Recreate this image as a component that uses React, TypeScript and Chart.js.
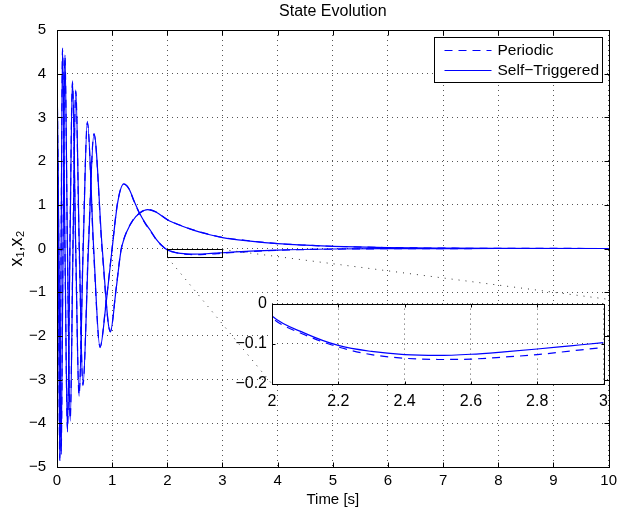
import React, { useEffect, useRef } from 'react';
import { Chart, registerables } from 'chart.js';

Chart.register(...registerables);

// ---------------- data ----------------
const TITLE = 'State Evolution';
const X_LABEL = 'Time [s]';
const Y_LABEL = 'x₁,x₂';
const LEGEND_LABELS = ['Periodic', 'Self−Triggered'];

const MAIN_X_RANGE = [0, 10];
const MAIN_Y_RANGE = [-5, 5];
const MAIN_X_STEP = 1;
const MAIN_Y_STEP = 1;
const ZOOM_X_RANGE = [2, 3];
const ZOOM_Y_RANGE = [-0.2, 0];
const ZOOM_X_STEP = 0.2;
const ZOOM_Y_STEP = 0.1;

const TIME_X1 = [0, 0.025, 0.05, 0.075, 0.1, 0.145, 0.19, 0.235, 0.28, 0.34, 0.4, 0.475, 0.55, 0.665, 0.78, 0.89, 1.0, 1.1, 1.21, 1.3, 1.4, 1.5, 1.6, 1.7, 1.8, 1.9, 2.0, 2.1, 2.2, 2.3, 2.4, 2.5, 2.6, 2.7, 2.8, 2.9, 3.0, 3.5, 4.0, 5.0, 6.0, 7.0, 8.0, 10.0];
const X1_SELF = [3.6, 0, -4.85, 0, 4.59, 0, -4.2, 0, 3.84, 0, -3.38, 0, 2.91, 0, -2.27, -1.25, 0, 1.05, 1.48, 1.38, 1.08, 0.8, 0.58, 0.4, 0.21, 0.07, -0.031, -0.074, -0.104, -0.119, -0.127, -0.129, -0.126, -0.12, -0.113, -0.105, -0.097, -0.06, -0.035, -0.012, -0.004, -0.001, 0, 0];
const X1_PERIODIC = [3.6, -0.3, -4.8, 0.3, 4.55, -0.2, -4.15, 0.2, 3.8, -0.15, -3.35, 0.15, 2.88, -0.1, -2.25, -1.22, 0.02, 1.07, 1.47, 1.37, 1.07, 0.79, 0.57, 0.39, 0.2, 0.065, -0.035, -0.078, -0.108, -0.127, -0.136, -0.139, -0.138, -0.133, -0.127, -0.118, -0.109, -0.07, -0.04, -0.014, -0.005, -0.002, 0, 0];

const TIME_X2 = [0, 0.035, 0.075, 0.11, 0.144, 0.19, 0.24, 0.29, 0.34, 0.405, 0.47, 0.57, 0.67, 0.82, 0.967, 1.07, 1.16, 1.21, 1.26, 1.375, 1.5, 1.645, 1.8, 2.0, 2.25, 2.5, 2.75, 3.0, 3.5, 4.0, 4.5, 5.0, 6.0, 7.0, 8.0, 10.0];
const X2_SELF = [4.2, 0, -4.7, 0, 4.43, 0, -3.95, 0, 3.63, 0, -3.14, 0, 2.63, 0, -1.91, -0.95, -0.05, 0.2, 0.37, 0.64, 0.81, 0.89, 0.83, 0.66, 0.52, 0.41, 0.32, 0.25, 0.17, 0.11, 0.075, 0.05, 0.02, 0.008, 0.003, 0];
const X2_PERIODIC = [4.2, -0.25, -4.65, 0.25, 4.4, -0.2, -3.9, 0.2, 3.6, -0.15, -3.12, 0.12, 2.62, -0.08, -1.9, -0.93, -0.03, 0.21, 0.38, 0.65, 0.815, 0.895, 0.835, 0.665, 0.525, 0.415, 0.325, 0.255, 0.175, 0.113, 0.077, 0.051, 0.021, 0.008, 0.003, 0];

// ---------------- layout / style ----------------
const W = 622;
const H = 513;
const FONT = '"Liberation Sans", Arial, Helvetica, sans-serif';
const BLUE = 'rgb(0,0,255)';
const DASH = [8, 6];
const GRID_COLOR = '#555';
const GRID_DASH = [1, 4];

const MAIN_Y_AXIS_W = 57;
const MAIN_X_AXIS_H = 46;
const MAIN_PAD = { top: 0, right: 10, bottom: 0, left: 0 };

const INSET_BOX = { left: 220, top: 289, width: 396, height: 123 };
const INSET_Y_AXIS_W = 52;
const INSET_X_AXIS_H = 28;
const INSET_PAD = { top: 10, right: 10, bottom: 0, left: 0 };
const INSET_AREA = {
  left: INSET_BOX.left + INSET_PAD.left + INSET_Y_AXIS_W,
  top: INSET_BOX.top + INSET_PAD.top,
  right: INSET_BOX.left + INSET_BOX.width - INSET_PAD.right,
  bottom: INSET_BOX.top + INSET_BOX.height - INSET_X_AXIS_H,
};

Chart.defaults.font.family = FONT;
Chart.defaults.color = '#000';

const pts = (t: number[], v: number[]) => t.map((x, i) => ({ x, y: v[i] }));
const fmt = (v: number | string) => {
  const n = Math.round(Number(v) * 10) / 10;
  return String(n === 0 ? 0 : n).replace('-', '−');
};

function makeDatasets() {
  const base = { borderColor: BLUE, borderWidth: 1.2, pointRadius: 0, fill: false, cubicInterpolationMode: 'monotone' as const };
  return [
    { ...base, label: LEGEND_LABELS[0] + ' x1', data: pts(TIME_X1, X1_PERIODIC), borderDash: DASH },
    { ...base, label: LEGEND_LABELS[0] + ' x2', data: pts(TIME_X2, X2_PERIODIC), borderDash: DASH },
    { ...base, label: LEGEND_LABELS[1] + ' x1', data: pts(TIME_X1, X1_SELF) },
    { ...base, label: LEGEND_LABELS[1] + ' x2', data: pts(TIME_X2, X2_SELF) },
  ];
}

const align = (v: number) => Math.round(v) + 0.5;

const framePlugin = {
  id: 'frame',
  beforeDraw(chart: any, _a: any, opts: any) {
    if (!opts || !opts.fill) return;
    const { left, top, right, bottom } = chart.chartArea;
    const ctx = chart.ctx;
    ctx.save();
    ctx.fillStyle = '#fff';
    ctx.fillRect(left, top, right - left + 1, bottom - top + 1);
    ctx.restore();
  },
  afterDraw(chart: any, _a: any, opts: any) {
    const ctx = chart.ctx;
    const { left, top, right, bottom } = chart.chartArea;
    const L = align(left), R = align(right), T = align(top), B = align(bottom);
    const len = (opts && opts.tickLen) || 5;
    ctx.save();
    ctx.strokeStyle = '#000';
    ctx.lineWidth = 1;
    ctx.setLineDash([]);
    ctx.beginPath();
    const xs = chart.scales.x, ys = chart.scales.y;
    xs.ticks.forEach((t: any) => {
      const p = align(xs.getPixelForValue(t.value));
      ctx.moveTo(p, B); ctx.lineTo(p, B - len);
      ctx.moveTo(p, T); ctx.lineTo(p, T + len);
    });
    ys.ticks.forEach((t: any) => {
      const p = align(ys.getPixelForValue(t.value));
      ctx.moveTo(L, p); ctx.lineTo(L + len, p);
      ctx.moveTo(R, p); ctx.lineTo(R - len, p);
    });
    ctx.stroke();
    ctx.strokeRect(L, T, R - L, B - T);
    ctx.restore();
  },
};

const zoomMarkerPlugin = {
  id: 'zoomMarker',
  afterDatasetsDraw(chart: any) {
    const ctx = chart.ctx;
    const xs = chart.scales.x, ys = chart.scales.y;
    const x0 = align(xs.getPixelForValue(ZOOM_X_RANGE[0]));
    const x1 = align(xs.getPixelForValue(ZOOM_X_RANGE[1]));
    const yT = align(ys.getPixelForValue(ZOOM_Y_RANGE[1]));
    const yB = align(ys.getPixelForValue(ZOOM_Y_RANGE[0]));
    ctx.save();
    ctx.strokeStyle = '#000';
    ctx.lineWidth = 1;
    ctx.setLineDash([]);
    ctx.strokeRect(x0, yT, x1 - x0, yB - yT);
    ctx.strokeStyle = '#333';
    ctx.setLineDash([1, 6]);
    ctx.beginPath();
    ctx.moveTo(x0, yB); ctx.lineTo(INSET_AREA.left, INSET_AREA.bottom);
    ctx.moveTo(x1, yT); ctx.lineTo(INSET_AREA.right, INSET_AREA.top);
    ctx.stroke();
    ctx.restore();
  },
};

const legendPlugin = {
  id: 'legendBox',
  afterDraw(chart: any) {
    const ctx = chart.ctx;
    const { right, top } = chart.chartArea;
    ctx.save();
    ctx.font = '15.5px ' + FONT;
    const tw = Math.max(...LEGEND_LABELS.map((l) => ctx.measureText(l).width));
    const w = Math.round(63 + tw + 3);
    const h = 45;
    const x0 = align(right - 7 - w);
    const y0 = align(top + 7);
    ctx.fillStyle = '#fff';
    ctx.fillRect(x0, y0, w, h);
    ctx.strokeStyle = '#000';
    ctx.lineWidth = 1;
    ctx.strokeRect(x0, y0, w, h);
    LEGEND_LABELS.forEach((label, i) => {
      const y = y0 + 13 + i * 20;
      ctx.strokeStyle = BLUE;
      ctx.lineWidth = 1.2;
      ctx.setLineDash(i === 0 ? DASH : []);
      ctx.beginPath();
      ctx.moveTo(x0 + 10, y);
      ctx.lineTo(x0 + 57, y);
      ctx.stroke();
      ctx.setLineDash([]);
      ctx.fillStyle = '#000';
      ctx.textAlign = 'left';
      ctx.textBaseline = 'middle';
      ctx.fillText(label, x0 + 63, y);
    });
    ctx.restore();
  },
};

export default function App() {
  const mainRef = useRef<HTMLCanvasElement>(null);
  const insetRef = useRef<HTMLCanvasElement>(null);

  useEffect(() => {
    const gridOpts = { color: GRID_COLOR, lineWidth: 1, drawTicks: false, drawOnChartArea: true };
    const main = new Chart(mainRef.current as HTMLCanvasElement, {
      type: 'line',
      data: { datasets: makeDatasets() as any },
      plugins: [framePlugin, zoomMarkerPlugin, legendPlugin],
      options: {
        animation: false,
        responsive: false,
        devicePixelRatio: 1,
        layout: { padding: MAIN_PAD },
        plugins: {
          legend: { display: false },
          tooltip: { enabled: false },
          title: {
            display: true,
            text: TITLE,
            fullSize: false,
            color: '#000',
            font: { size: 16, weight: 'normal', lineHeight: 1 },
            padding: { top: 4, bottom: 10 },
          },
          frame: { tickLen: 5 },
        } as any,
        scales: {
          x: {
            type: 'linear',
            min: MAIN_X_RANGE[0],
            max: MAIN_X_RANGE[1],
            grid: gridOpts,
            border: { display: false, dash: GRID_DASH },
            ticks: { stepSize: MAIN_X_STEP, padding: 5, font: { size: 15 }, color: '#000', callback: (v: any) => fmt(v), maxRotation: 0 },
            title: { display: true, text: X_LABEL, color: '#000', font: { size: 15, lineHeight: 1 }, padding: { top: 0, bottom: 6 } },
            afterFit: (s: any) => { s.height = MAIN_X_AXIS_H; },
          },
          y: {
            type: 'linear',
            min: MAIN_Y_RANGE[0],
            max: MAIN_Y_RANGE[1],
            grid: gridOpts,
            border: { display: false, dash: GRID_DASH },
            ticks: { stepSize: MAIN_Y_STEP, padding: 11, font: { size: 15 }, color: '#000', callback: (v: any) => fmt(v) },
            title: { display: true, text: Y_LABEL, color: '#000', font: { size: 18, lineHeight: 1 }, padding: { top: 8, bottom: 0 } },
            afterFit: (s: any) => { s.width = MAIN_Y_AXIS_W; },
          },
        } as any,
      },
    });

    const inset = new Chart(insetRef.current as HTMLCanvasElement, {
      type: 'line',
      data: { datasets: makeDatasets() as any },
      plugins: [framePlugin],
      options: {
        animation: false,
        responsive: false,
        devicePixelRatio: 1,
        layout: { padding: INSET_PAD },
        plugins: {
          legend: { display: false },
          tooltip: { enabled: false },
          title: { display: false },
          frame: { tickLen: 3, fill: true },
        } as any,
        scales: {
          x: {
            type: 'linear',
            min: ZOOM_X_RANGE[0],
            max: ZOOM_X_RANGE[1],
            grid: gridOpts,
            border: { display: false, dash: GRID_DASH },
            ticks: { stepSize: ZOOM_X_STEP, padding: 8, font: { size: 16 }, color: '#000', callback: (v: any) => fmt(v), maxRotation: 0, autoSkip: false },
            afterFit: (s: any) => { s.height = INSET_X_AXIS_H; },
          },
          y: {
            type: 'linear',
            min: ZOOM_Y_RANGE[0],
            max: ZOOM_Y_RANGE[1],
            grid: gridOpts,
            border: { display: false, dash: GRID_DASH },
            ticks: { stepSize: ZOOM_Y_STEP, padding: 5, font: { size: 16 }, color: '#000', callback: (v: any) => fmt(v), autoSkip: false },
            afterFit: (s: any) => { s.width = INSET_Y_AXIS_W; },
          },
        } as any,
      },
    });

    return () => {
      main.destroy();
      inset.destroy();
    };
  }, []);

  return (
    <div style={{ position: 'fixed', left: 0, top: 0, width: W, height: H, background: '#fff' }}>
      <canvas
        ref={mainRef}
        width={W}
        height={H}
        style={{ position: 'absolute', left: 0, top: 0, width: W, height: H, display: 'block' }}
      />
      <canvas
        ref={insetRef}
        width={INSET_BOX.width}
        height={INSET_BOX.height}
        style={{
          position: 'absolute',
          left: INSET_BOX.left,
          top: INSET_BOX.top,
          width: INSET_BOX.width,
          height: INSET_BOX.height,
          display: 'block',
        }}
      />
    </div>
  );
}
